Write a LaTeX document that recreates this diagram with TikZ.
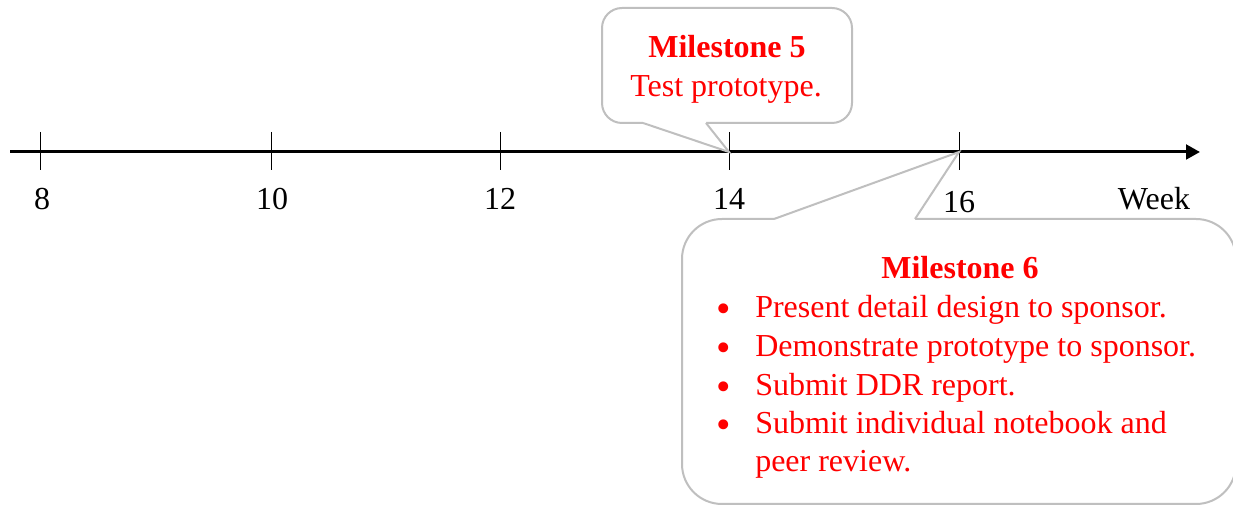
\documentclass[tikz,border=0pt]{standalone}
\usepackage{fontspec}
\setmainfont{Liberation Serif}
\usetikzlibrary{arrows.meta}
\definecolor{bubblegray}{RGB}{191,191,191}
\definecolor{msred}{RGB}{255,0,0}
\tikzset{
  axisline/.style={line width=2.25pt, -{Triangle[length=10.5pt,width=11pt]}},
  tickmark/.style={line width=0.75pt},
  ticklabel/.style={anchor=base, inner sep=0pt, font=\fontsize{24}{29}\selectfont},
  bubble/.style={draw=bubblegray, fill=white, line width=1.5pt, rectangle, inner sep=0pt},
  tail/.style={draw=bubblegray, line width=1.5pt, line join=miter},
  mstitle/.style={anchor=base, inner sep=0pt, text=msred, font=\fontsize{24}{29}\selectfont\bfseries},
  mstext/.style={anchor=base west, inner sep=0pt, text=msred, font=\fontsize{24}{29}\selectfont},
  msbullet/.style={anchor=base, inner sep=0pt, text=msred, font=\fontsize{31}{29}\selectfont},
}
\begin{document}
\begin{tikzpicture}[x=0.75pt, y=-0.75pt]
\useasboundingbox (0,0) rectangle (1233,505);
\clip (0,0) rectangle (1233,505);

% time axis
\coordinate (axstart) at (10,152);
\coordinate (axend) at (1200,152);
\draw[axisline] (axstart) -- (axend);

% week ticks
\foreach \name/\x in {t8/40, t10/271, t12/500, t14/729, t16/959} {
  \coordinate (\name) at (\x,152);
  \coordinate (\name top) at (\x,132);
  \coordinate (\name bot) at (\x,170);
  \draw[tickmark] (\name top) -- (\name bot);
}

% tick labels
\node[ticklabel] (l8)  at (42,210)  {8};
\node[ticklabel] (l10) at (272,210) {10};
\node[ticklabel] (l12) at (500,210) {12};
\node[ticklabel] (l14) at (729,210) {14};
\node[ticklabel] (l16) at (959,213) {16};
\node[ticklabel] (week) at (1154,210) {Week};

% milestone 5 callout
\node[bubble, rounded corners=15pt, minimum width=187.5pt, minimum height=86.25pt]
  (m5) at (727,65.5) {};
\coordinate (m5a) at (643,123);
\coordinate (m5b) at (706,123);
\coordinate (m5ai) at (643,119);
\coordinate (m5bi) at (706,119);
\fill[white] (m5ai) -- (m5a) -- (t14) -- (m5b) -- (m5bi) -- cycle;
\draw[tail] (m5a) -- (t14) -- (m5b);
\node[mstitle] (m5title) at (727,58) {Milestone 5};
\node[ticklabel, text=msred] (m5line) at (726,97) {Test prototype.};

% milestone 6 callout
\node[bubble, rounded corners=30pt, minimum width=415.5pt, minimum height=213.75pt]
  (m6) at (959,361.5) {};
\coordinate (m6a) at (774,219);
\coordinate (m6b) at (915,219);
\coordinate (m6ai) at (774,223);
\coordinate (m6bi) at (915,223);
\fill[white] (m6ai) -- (m6a) -- (t16) -- (m6b) -- (m6bi) -- cycle;
\draw[tail] (m6a) -- (t16) -- (m6b);
\node[mstitle] (m6title) at (960,279) {Milestone 6};

\node[msbullet] (b1) at (724,323) {•};
\node[mstext] (i1) at (755,318) {Present detail design to sponsor.};
\node[msbullet] (b2) at (724,362) {•};
\node[mstext] (i2) at (755,357) {Demonstrate prototype to sponsor.};
\node[msbullet] (b3) at (724,401) {•};
\node[mstext] (i3) at (755,396) {Submit DDR report.};
\node[msbullet] (b4) at (724,439) {•};
\node[mstext] (i4) at (755,434) {Submit individual notebook and};
\node[mstext] (i5) at (755,472) {peer review.};
\end{tikzpicture}
\end{document}
